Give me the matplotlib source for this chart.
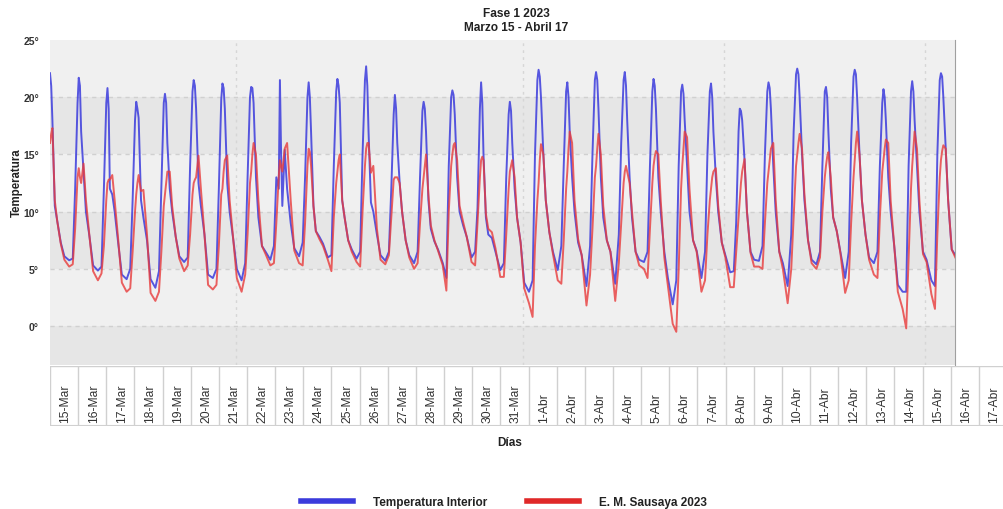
import numpy as np
import matplotlib
matplotlib.use("Agg")
import matplotlib.pyplot as plt

plt.rcParams['font.family'] = ['Liberation Sans', 'DejaVu Sans']

# horas del día en que se leen los valores
horas = [1, 5, 8, 10, 12, 13, 14, 15, 17, 19, 22]
nan = np.nan

# Temperatura Interior, una fila por día (15-Mar ... 16-Abr)
temp_interior = [
    [nan, nan, nan, nan, nan, 22.1, 21.0, 18.0, 10.5, 9.2, 7.3],
    [6.1, 5.75, 5.9, 12.0, 19.5, 21.7, 21.0, 17.0, 13.5, 10.0, 7.8],
    [5.3, 4.85, 5.2, 12.0, 19.5, 20.8, 19.0, 12.0, 11.5, 10.0, 7.2],
    [4.5, 4.1, 5.0, 11.0, 18.0, 19.6, 19.0, 18.2, 11.0, 9.5, 7.5],
    [4.1, 3.35, 4.8, 12.0, 19.5, 20.3, 19.5, 16.0, 12.0, 10.0, 7.8],
    [6.1, 5.6, 6.0, 14.0, 20.5, 21.5, 21.0, 19.0, 12.5, 10.5, 8.0],
    [4.5, 4.2, 5.0, 12.0, 19.8, 21.2, 20.8, 19.0, 12.5, 10.0, 7.6],
    [5.0, 4.0, 5.5, 13.0, 20.0, 20.9, 20.8, 19.5, 13.0, 9.5, 7.0],
    [6.5, 5.8, 7.0, 13.0, 12.0, 21.5, 15.0, 10.5, 15.4, 12.0, 9.0],
    [6.8, 6.1, 7.3, 13.0, 20.0, 21.3, 20.0, 17.0, 10.5, 8.3, 7.8],
    [7.2, 6.0, 6.2, 14.0, 20.5, 21.6, 21.0, 19.5, 11.0, 9.5, 7.5],
    [6.7, 5.9, 6.5, 15.0, 21.5, 22.7, 21.0, 17.0, 10.8, 10.0, 8.0],
    [6.2, 5.7, 6.5, 12.0, 18.5, 20.2, 19.0, 16.0, 12.5, 10.0, 7.5],
    [6.2, 5.5, 6.5, 13.0, 18.8, 19.6, 19.0, 17.0, 11.0, 8.5, 7.4],
    [6.7, 5.5, 4.2, 14.0, 20.0, 20.6, 20.2, 18.5, 13.0, 10.0, 8.8],
    [7.8, 6.0, 6.5, 10.3, 19.0, 21.3, 19.5, 15.0, 9.5, 8.0, 7.7],
    [6.5, 4.9, 5.5, 13.0, 18.5, 19.6, 18.8, 16.0, 12.0, 9.5, 7.3],
    [3.8, 3.0, 4.0, 15.0, 21.5, 22.4, 21.8, 20.0, 15.0, 11.0, 8.2],
    [6.5, 4.9, 7.0, 14.0, 20.5, 21.3, 20.0, 17.0, 13.0, 10.0, 7.3],
    [6.2, 3.5, 7.0, 15.0, 21.5, 22.2, 21.5, 19.0, 13.0, 9.5, 7.5],
    [6.5, 3.7, 8.0, 16.0, 21.5, 22.2, 21.0, 18.0, 13.0, 9.5, 6.5],
    [5.8, 5.6, 6.5, 14.0, 20.5, 21.6, 21.0, 19.0, 13.0, 10.0, 6.5],
    [4.2, 1.9, 4.0, 14.0, 20.5, 21.1, 20.3, 18.0, 14.0, 10.0, 7.5],
    [6.6, 4.2, 6.5, 15.0, 20.5, 21.2, 20.0, 17.0, 13.0, 10.0, 7.3],
    [6.2, 4.7, 4.8, 9.0, 17.0, 19.0, 18.8, 18.0, 14.5, 10.0, 6.5],
    [5.8, 5.7, 7.0, 15.0, 20.5, 21.3, 20.8, 19.0, 14.0, 10.0, 6.5],
    [5.5, 3.5, 8.0, 17.0, 22.0, 22.5, 22.0, 20.0, 15.0, 11.0, 7.5],
    [5.8, 5.4, 6.5, 14.0, 20.5, 20.9, 20.0, 17.0, 12.0, 9.5, 8.3],
    [6.5, 4.2, 6.5, 16.0, 21.8, 22.4, 22.0, 20.0, 15.0, 11.0, 8.0],
    [6.0, 5.5, 6.5, 14.0, 19.5, 20.7, 20.0, 18.0, 13.0, 10.0, 7.0],
    [3.6, 3.0, 3.0, 14.0, 20.5, 21.4, 20.5, 18.0, 14.0, 10.0, 6.5],
    [5.8, 4.0, 3.5, 15.0, 21.5, 22.1, 21.8, 20.0, 15.5, 11.0, 6.7],
    [6.2, nan, nan, nan, nan, nan, nan, nan, nan, nan, nan],
]

# E. M. Sausaya 2023
temp_sausaya = [
    [nan, nan, nan, nan, nan, 16.0, 16.8, 17.3, 11.0, 9.2, 7.2],
    [5.8, 5.2, 5.4, 8.5, 13.0, 13.8, 13.0, 12.5, 14.2, 11.0, 7.8],
    [4.8, 4.0, 4.6, 7.0, 11.0, 12.5, 12.8, 12.8, 13.2, 11.0, 7.5],
    [3.8, 3.0, 3.3, 6.5, 10.0, 11.5, 12.5, 13.2, 11.8, 11.9, 8.0],
    [2.9, 2.2, 3.0, 6.5, 10.5, 11.5, 12.5, 13.5, 13.5, 10.5, 7.8],
    [5.9, 4.8, 5.3, 8.0, 11.5, 12.5, 12.8, 13.0, 14.9, 12.0, 8.0],
    [3.6, 3.2, 3.6, 7.0, 11.5, 12.0, 13.5, 14.5, 14.9, 11.0, 7.6],
    [4.2, 3.0, 4.5, 8.0, 12.5, 13.5, 15.0, 16.0, 15.0, 11.0, 7.0],
    [6.3, 5.3, 5.5, 9.0, 13.0, 14.5, 14.0, 13.5, 15.5, 16.0, 11.0],
    [6.6, 5.5, 5.3, 9.0, 14.0, 15.5, 15.2, 14.0, 10.5, 8.3, 7.6],
    [7.0, 5.8, 4.8, 9.5, 12.5, 13.5, 14.5, 15.0, 11.0, 9.5, 7.5],
    [6.5, 5.6, 5.2, 10.0, 14.0, 15.5, 16.0, 16.0, 13.4, 14.0, 8.5],
    [5.8, 5.4, 6.2, 9.5, 12.8, 13.0, 13.0, 13.0, 12.5, 10.0, 7.5],
    [6.0, 5.0, 5.5, 9.0, 12.0, 13.0, 14.0, 15.0, 11.5, 8.8, 7.5],
    [6.6, 5.3, 3.1, 10.0, 14.0, 15.0, 15.8, 16.0, 14.5, 10.5, 9.1],
    [7.8, 5.6, 5.3, 9.0, 13.0, 14.5, 14.8, 14.5, 9.8, 8.5, 8.2],
    [6.8, 4.3, 4.3, 8.0, 12.0, 13.5, 14.0, 14.5, 13.0, 9.5, 7.3],
    [3.3, 2.0, 0.8, 7.0, 11.0, 12.5, 14.5, 15.9, 15.0, 11.0, 8.2],
    [6.3, 4.0, 3.7, 7.5, 12.0, 13.5, 15.5, 17.0, 16.0, 11.0, 7.6],
    [6.2, 1.8, 4.5, 8.5, 13.0, 14.0, 15.5, 16.8, 15.0, 10.5, 7.5],
    [6.5, 2.2, 5.5, 9.0, 12.5, 13.5, 14.0, 13.5, 12.5, 10.0, 6.5],
    [5.3, 5.0, 4.2, 8.5, 12.5, 14.0, 14.8, 15.3, 15.0, 11.0, 6.0],
    [3.5, 0.2, -0.5, 5.0, 12.0, 14.0, 15.5, 17.0, 16.5, 12.0, 7.5],
    [6.5, 3.0, 4.0, 8.0, 11.0, 12.0, 13.0, 13.5, 13.8, 10.5, 7.3],
    [6.0, 3.4, 3.4, 6.5, 9.5, 11.0, 12.5, 13.5, 14.6, 10.0, 6.4],
    [5.2, 5.2, 5.0, 9.0, 12.5, 13.5, 14.5, 15.5, 16.0, 11.0, 6.5],
    [5.0, 2.0, 5.0, 9.5, 14.0, 15.0, 16.0, 16.8, 15.5, 11.5, 7.5],
    [5.5, 5.0, 6.0, 10.0, 13.0, 14.0, 14.8, 15.2, 13.0, 9.5, 8.3],
    [6.4, 2.9, 4.0, 9.0, 13.0, 14.5, 16.0, 17.0, 15.0, 11.0, 8.0],
    [5.8, 4.5, 4.2, 9.5, 13.5, 14.5, 15.5, 16.3, 16.0, 11.0, 7.0],
    [3.0, 1.5, -0.2, 6.0, 12.0, 14.0, 15.5, 17.0, 15.5, 11.0, 6.3],
    [5.6, 2.8, 1.5, 8.0, 13.0, 14.5, 15.3, 15.8, 15.5, 11.0, 6.7],
    [6.0, nan, nan, nan, nan, nan, nan, nan, nan, nan, nan],
]

etiquetas_dias = [f"{d}-Mar" for d in range(15, 32)] + [f"{d}-Abr" for d in range(1, 18)]

# tiempo en días desde 15-Mar 00:00
t = np.array([d + h / 24 for d in range(len(temp_interior)) for h in horas])
interior = np.array(temp_interior).ravel()
sausaya = np.array(temp_sausaya).ravel()

fig = plt.figure(figsize=(10.04, 5.10), dpi=100)
W, H = 1004, 510

ax = fig.add_axes([50 / W, 1 - 366 / H, 905 / W, 325 / H])
ax.set_facecolor('#f0f0f0')
for lo, hi in [(-3.4, 0), (5, 10), (15, 20)]:
    ax.axhspan(lo, hi, color='#e6e6e6', lw=0, zorder=0)
for v in [0, 5, 10, 15, 20]:
    ax.axhline(v, color='#d0d0d0', lw=1, ls=(0, (3, 3)), zorder=1)
for v in [7, 17, 24, 31]:
    ax.axvline(v, color='#d6d6d6', lw=1, ls=(0, (2, 3)), zorder=1)

ax.plot(t, interior, color='#3b3bdc', lw=1.4, alpha=0.85, zorder=3)
ax.plot(t, sausaya, color='#e83b3b', lw=1.4, alpha=0.8, zorder=4)

ax.set_xlim(13 / 24, 13 / 24 + 905 / 28.74)
ax.set_ylim(-3.4, 25)
ax.set_xticks([])
ax.set_yticks([0, 5, 10, 15, 20, 25])
ax.set_yticklabels([f"{v}°" for v in [0, 5, 10, 15, 20, 25]],
                   fontsize=7.5, fontweight='bold', color='#333333')
ax.tick_params(axis='y', length=0, pad=8)
for s in ['top', 'left', 'bottom']:
    ax.spines[s].set_visible(False)
ax.spines['right'].set_color('#a0a0a0')

# tabla de días bajo el gráfico
tab = fig.add_axes([50 / W, 1 - 427 / H, 34 * 28.15 / W, 60 / H])
tab.set_xlim(0, 34)
tab.set_ylim(0, 1)
tab.axis('off')
for i in range(35):
    tab.axvline(i, color='#d0d0d0', lw=1)
tab.axhline(0, color='#d0d0d0', lw=1.5)
tab.axhline(1, color='#d0d0d0', lw=1)
for i, lab in enumerate(etiquetas_dias):
    tab.text(i + 0.55, 0.07, lab, rotation=90, ha='center', va='bottom',
             fontsize=8.7, color='#333333')

fig.text(516 / W, 1 - 14 / H, "Fase 1 2023", ha='center', va='center',
         fontsize=8.6, fontweight='bold', color='#222222')
fig.text(516 / W, 1 - 28 / H, "Marzo 15 - Abril 17", ha='center', va='center',
         fontsize=8.6, fontweight='bold', color='#222222')
fig.text(17 / W, 1 - 183 / H, "Temperatura", rotation=90, ha='center', va='center',
         fontsize=8.3, fontweight='bold', color='#222222')
fig.text(510 / W, 1 - 443 / H, "Días", ha='center', va='center',
         fontsize=8.5, fontweight='bold', color='#222222')

h1, = ax.plot([], [], color='#3b3bdc', lw=4)
h2, = ax.plot([], [], color='#e02828', lw=4)
leg = fig.legend([h1, h2], ["Temperatura Interior", "E. M. Sausaya 2023"],
                 loc='center', bbox_to_anchor=(504 / W, 1 - 503 / H), ncol=2,
                 frameon=False, handlelength=4.4, handletextpad=1.7,
                 columnspacing=3.4, prop={'size': 8.5, 'weight': 'bold'})
for txt in leg.get_texts():
    txt.set_color('#222222')

fig.savefig("out.png", dpi=100)
